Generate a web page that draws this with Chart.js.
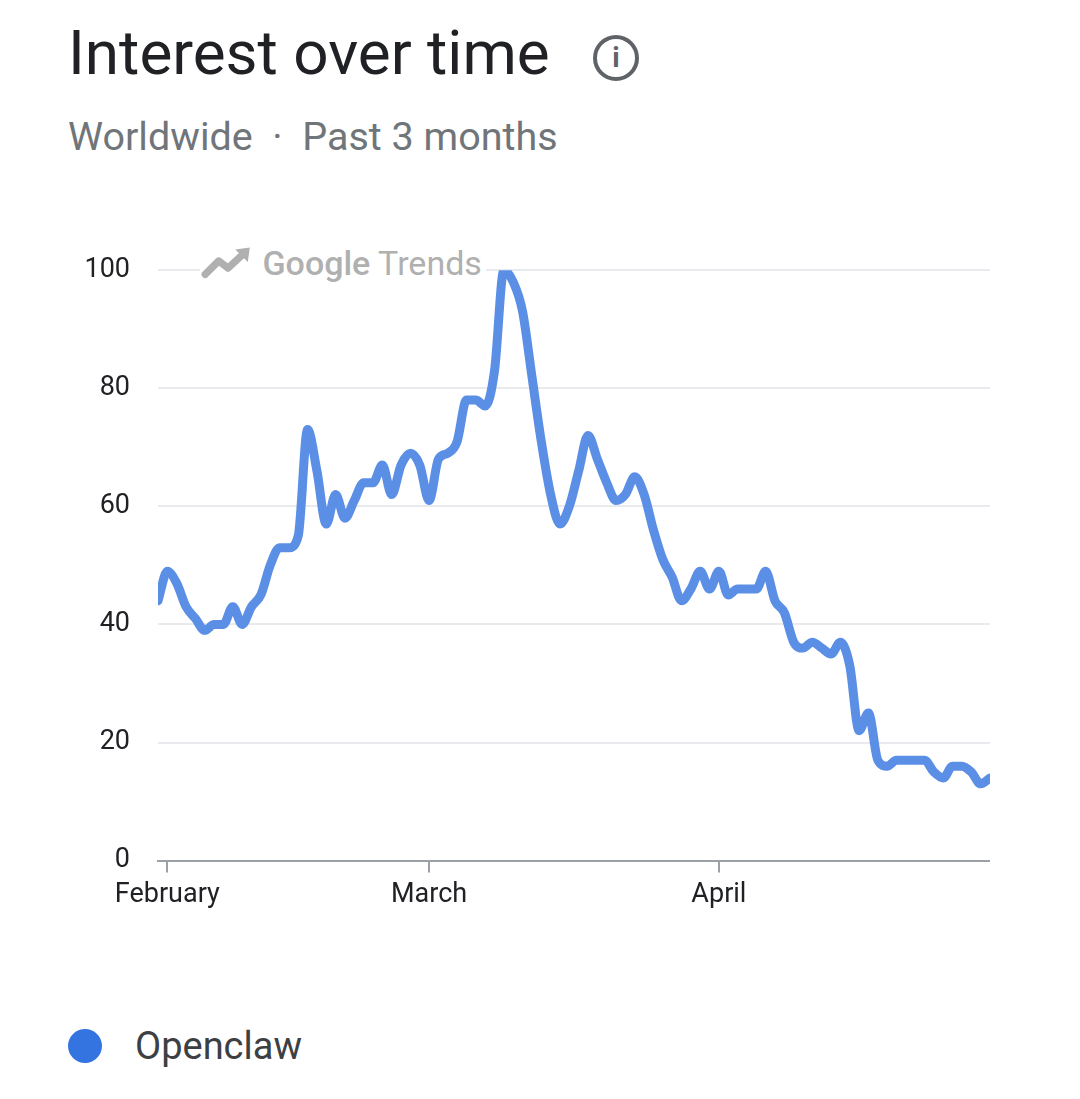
<!DOCTYPE html>
<html>
<head>
<meta charset="utf-8">
<script src="https://cdn.jsdelivr.net/npm/chart.js@4"></script>
<style>
  body { margin: 0; background: #fff; width: 1080px; height: 1099px; position: relative; overflow: hidden; font-family: Roboto, "Noto Sans", sans-serif; }
  #title { position: absolute; left: 68px; top: 16px; font-size: 62px; color: #202124; }
  #info { position: absolute; left: 593px; top: 35px; width: 38px; height: 38px; border: 4px solid #5f6368; border-radius: 50%; color: #5f6368; font-size: 28px; font-weight: bold; text-align: center; line-height: 38px; box-sizing: content-box; }
  #sub { position: absolute; left: 68px; top: 113px; font-size: 39.5px; color: #70757a; }
  #wm { position: absolute; left: 200px; top: 243px; font-size: 34px; color: #b0b0b0; background: #fff; padding-right: 4px; }
  #wm b { font-weight: 500; }
  #box { position: absolute; left: 40px; top: 226px; width: 950px; height: 691px; }
  #legend { position: absolute; left: 68px; top: 1024px; font-size: 38px; color: #3c4043; }
  #legend span.dot { display: inline-block; width: 34px; height: 34px; border-radius: 50%; background: #3474e0; vertical-align: -4px; margin-right: 33px; }
</style>
</head>
<body>
<div id="title">Interest over time</div>
<div id="info">i</div>
<div id="sub">Worldwide &nbsp;·&nbsp; Past 3 months</div>
<div id="box"><canvas id="c"></canvas></div>
<div id="wm"><svg width="54" height="36" viewBox="0 0 52 34" style="vertical-align:-6px"><path d="M5 28 L18 15 L27 22 L42 8" stroke="#b0b0b0" stroke-width="7" fill="none" stroke-linecap="round" stroke-linejoin="round"/><path d="M34 4 L48 2 L46 16 Z" fill="#b0b0b0"/></svg> <b>Google</b> Trends</div>
<div id="legend"><span class="dot"></span>Openclaw</div>
<script>
// daily values starting Jan 31
const interest = [44, 49, 47, 43, 41, 39, 40, 40, 43, 40, 43, 45, 50, 53, 53, 55, 73, 66, 57, 62,
  58, 61, 64, 64, 67, 62, 67, 69, 67, 61, 68, 69, 71, 78, 78, 77, 83, 100, 98, 93,
  82, 71, 62, 57, 60, 66, 72, 68, 64, 61, 62, 65, 62, 56, 51, 48, 44, 46, 49, 46,
  49, 45, 46, 46, 46, 49, 44, 42, 37, 36, 37, 36, 35, 37, 33, 22, 25, 17, 16, 17,
  17, 17, 17, 15, 14, 16, 16, 15, 13, 14];
const monthTicks = [1, 29, 60];
const monthLabels = ['February', 'March', 'April'];
const yTicks = [0, 20, 40, 60, 80, 100];

const points = interest.map((v, i) => ({ x: i, y: v }));

new Chart(document.getElementById('c'), {
  type: 'line',
  data: { datasets: [{ label: 'Openclaw', data: points, borderColor: '#5b8fe6', borderWidth: 9,
    pointRadius: 0, tension: 0.4, cubicInterpolationMode: 'monotone', borderCapStyle: 'round' }] },
  options: {
    responsive: true, maintainAspectRatio: false, animation: false,
    layout: { padding: { top: 2, right: 0, left: 0, bottom: 0 } },
    plugins: { legend: { display: false }, tooltip: { enabled: false } },
    scales: {
      x: {
        type: 'linear', min: 0, max: interest.length - 1,
        afterBuildTicks: s => { s.ticks = monthTicks.map(v => ({ value: v })); },
        ticks: { callback: v => monthLabels[monthTicks.indexOf(v)], color: '#202124', font: { size: 27, family: 'Roboto' }, maxRotation: 0, padding: 6 },
        grid: { display: true, drawOnChartArea: false, drawTicks: true, tickLength: 12, color: '#9aa0a6', lineWidth: 2 },
        border: { display: true, color: '#9aa0a6', width: 2 }
      },
      y: {
        min: 0, max: 100,
        afterBuildTicks: s => { s.ticks = yTicks.map(v => ({ value: v })); },
        afterFit: s => { s.width = 118; },
        ticks: { color: '#202124', font: { size: 27, family: 'Roboto' }, padding: 28 },
        grid: { color: '#e8eaed', lineWidth: 2, drawTicks: false },
        border: { display: false }
      }
    }
  }
});
</script>
</body>
</html>
